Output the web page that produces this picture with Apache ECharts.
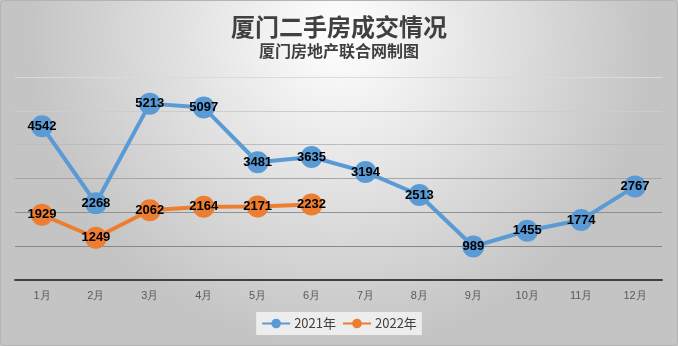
<!DOCTYPE html>
<html><head><meta charset="utf-8">
<script src="https://cdn.jsdelivr.net/npm/echarts@6/dist/echarts.min.js"></script>
<style>html,body{margin:0;padding:0;}#c{width:678px;height:346px;}</style>
</head><body><div id="c"></div>
<script>
var categories = ['1月','2月','3月','4月','5月','6月','7月','8月','9月','10月','11月','12月'];
var series2021 = [4542,2268,5213,5097,3481,3635,3194,2513,989,1455,1774,2767];
var series2022 = [1929,1249,2062,2164,2171,2232];
var seriesNames = ['2021年','2022年'];

var chart = echarts.init(document.getElementById('c'));
var lbl = {show:true, position:'inside', color:'#000', fontWeight:'bold', fontSize:13, fontFamily:'Liberation Sans Narrow, Arial, sans-serif'};
function mk(name, data, color){
  return {name:name, type:'line', data:data, symbol:'circle', symbolSize:22,
    lineStyle:{width:4,color:color}, itemStyle:{color:color}, label:lbl, z:3};
}
chart.setOption({
  backgroundColor:{type:'radial',x:0.5,y:0.1,r:0.9,colorStops:[{offset:0,color:'#ffffff'},{offset:1,color:'#c4c4c4'}]},
  graphic:[{type:'rect', shape:{x:0.5,y:0.5,width:677,height:345,r:4}, style:{fill:'none',stroke:'#b4b4b4',lineWidth:1}, silent:true, z:100}],
  title:{text:'厦门二手房成交情况', subtext:'厦门房地产联合网制图', left:'center', top:10, itemGap:4,
    textStyle:{fontSize:24,fontWeight:'bold',color:'#404040',fontFamily:'Noto Sans CJK SC'},
    subtextStyle:{fontSize:16,fontWeight:'bold',color:'#404040',fontFamily:'Noto Sans CJK SC'}},
  legend:{data:seriesNames, top:312, left:'center', backgroundColor:'#ededed', padding:[5,5], itemWidth:28, itemHeight:12, itemGap:6,
    textStyle:{color:'#404040',fontSize:13,fontFamily:'Noto Sans CJK SC',padding:[0,0,0,-1]}},
  grid:{left:15, right:16, top:77, bottom:66},
  xAxis:{type:'category', data:categories, boundaryGap:true,
    axisLine:{lineStyle:{color:'#404040',width:2}}, axisTick:{show:false},
    axisLabel:{color:'#595959',fontSize:11,margin:10}},
  yAxis:{type:'value', min:0, max:6000, interval:1000, axisLabel:{show:false}, axisLine:{show:false}, axisTick:{show:false},
    splitLine:{lineStyle:{color:['#808080','#888888','#909090','#a6a6a6','#bcbcbc','#cdcdcd','#dadada'],width:1}}},
  series:[mk(seriesNames[0],series2021,'#5B9BD5'), mk(seriesNames[1],series2022,'#ED7D31')]
});
</script></body></html>
